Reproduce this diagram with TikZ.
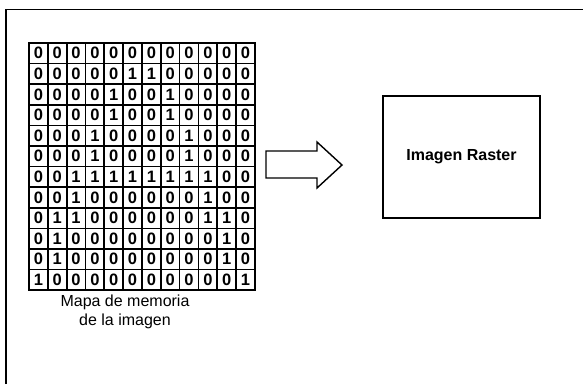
\documentclass[tikz,border=0pt]{standalone}
\usepackage{fontspec}
\setmainfont{Liberation Sans}
\begin{document}
\begin{tikzpicture}[x=1pt,y=-1pt,
  cell/.style={draw, line width=1.7pt, minimum width=18.83pt, minimum height=20.6pt,
    inner sep=0pt, font=\bfseries\fontsize{16.5}{16.5}\selectfont},
  frameline/.style={line width=1.3pt},
  blockarrow/.style={draw, line width=1.4pt, line join=miter},
  rasterbox/.style={draw, line width=1.6pt, minimum width=157pt, minimum height=122pt,
    inner sep=0pt, font=\bfseries\fontsize{16}{19}\selectfont},
  caption/.style={align=center, inner sep=0pt, font=\fontsize{16}{19}\selectfont}]
\useasboundingbox (0,0) rectangle (583,384);
% outer frame (right and bottom edges lie outside the picture)
\draw[frameline] (6,384) -- (6,9.5) -- (583,9.5);
% memory map grid
\foreach [count=\r] \rowvals in {
  {0,0,0,0,0,0,0,0,0,0,0,0},
  {0,0,0,0,0,1,1,0,0,0,0,0},
  {0,0,0,0,1,0,0,1,0,0,0,0},
  {0,0,0,0,1,0,0,1,0,0,0,0},
  {0,0,0,1,0,0,0,0,1,0,0,0},
  {0,0,0,1,0,0,0,0,1,0,0,0},
  {0,0,1,1,1,1,1,1,1,1,0,0},
  {0,0,1,0,0,0,0,0,0,1,0,0},
  {0,1,1,0,0,0,0,0,0,1,1,0},
  {0,1,0,0,0,0,0,0,0,0,1,0},
  {0,1,0,0,0,0,0,0,0,0,1,0},
  {1,0,0,0,0,0,0,0,0,0,0,1}}{
  \foreach [count=\c] \v in \rowvals {
    \node[cell] (c-\r-\c) at ({29+(\c-0.5)*18.83},{43+(\r-0.5)*20.6}) {\v};
  }
}
\node[caption] (mapa) at (125,312) {Mapa de memoria\\de la imagen};
% block arrow
\coordinate (a0) at (266,151);
\draw[blockarrow] (a0) -- (317,151) -- (317,142) -- (342,165) -- (317,188) -- (317,178) -- (266,178) -- cycle;
% raster image box
\node[rasterbox] (raster) at (461.5,157) {Imagen Raster};
\end{tikzpicture}
\end{document}
